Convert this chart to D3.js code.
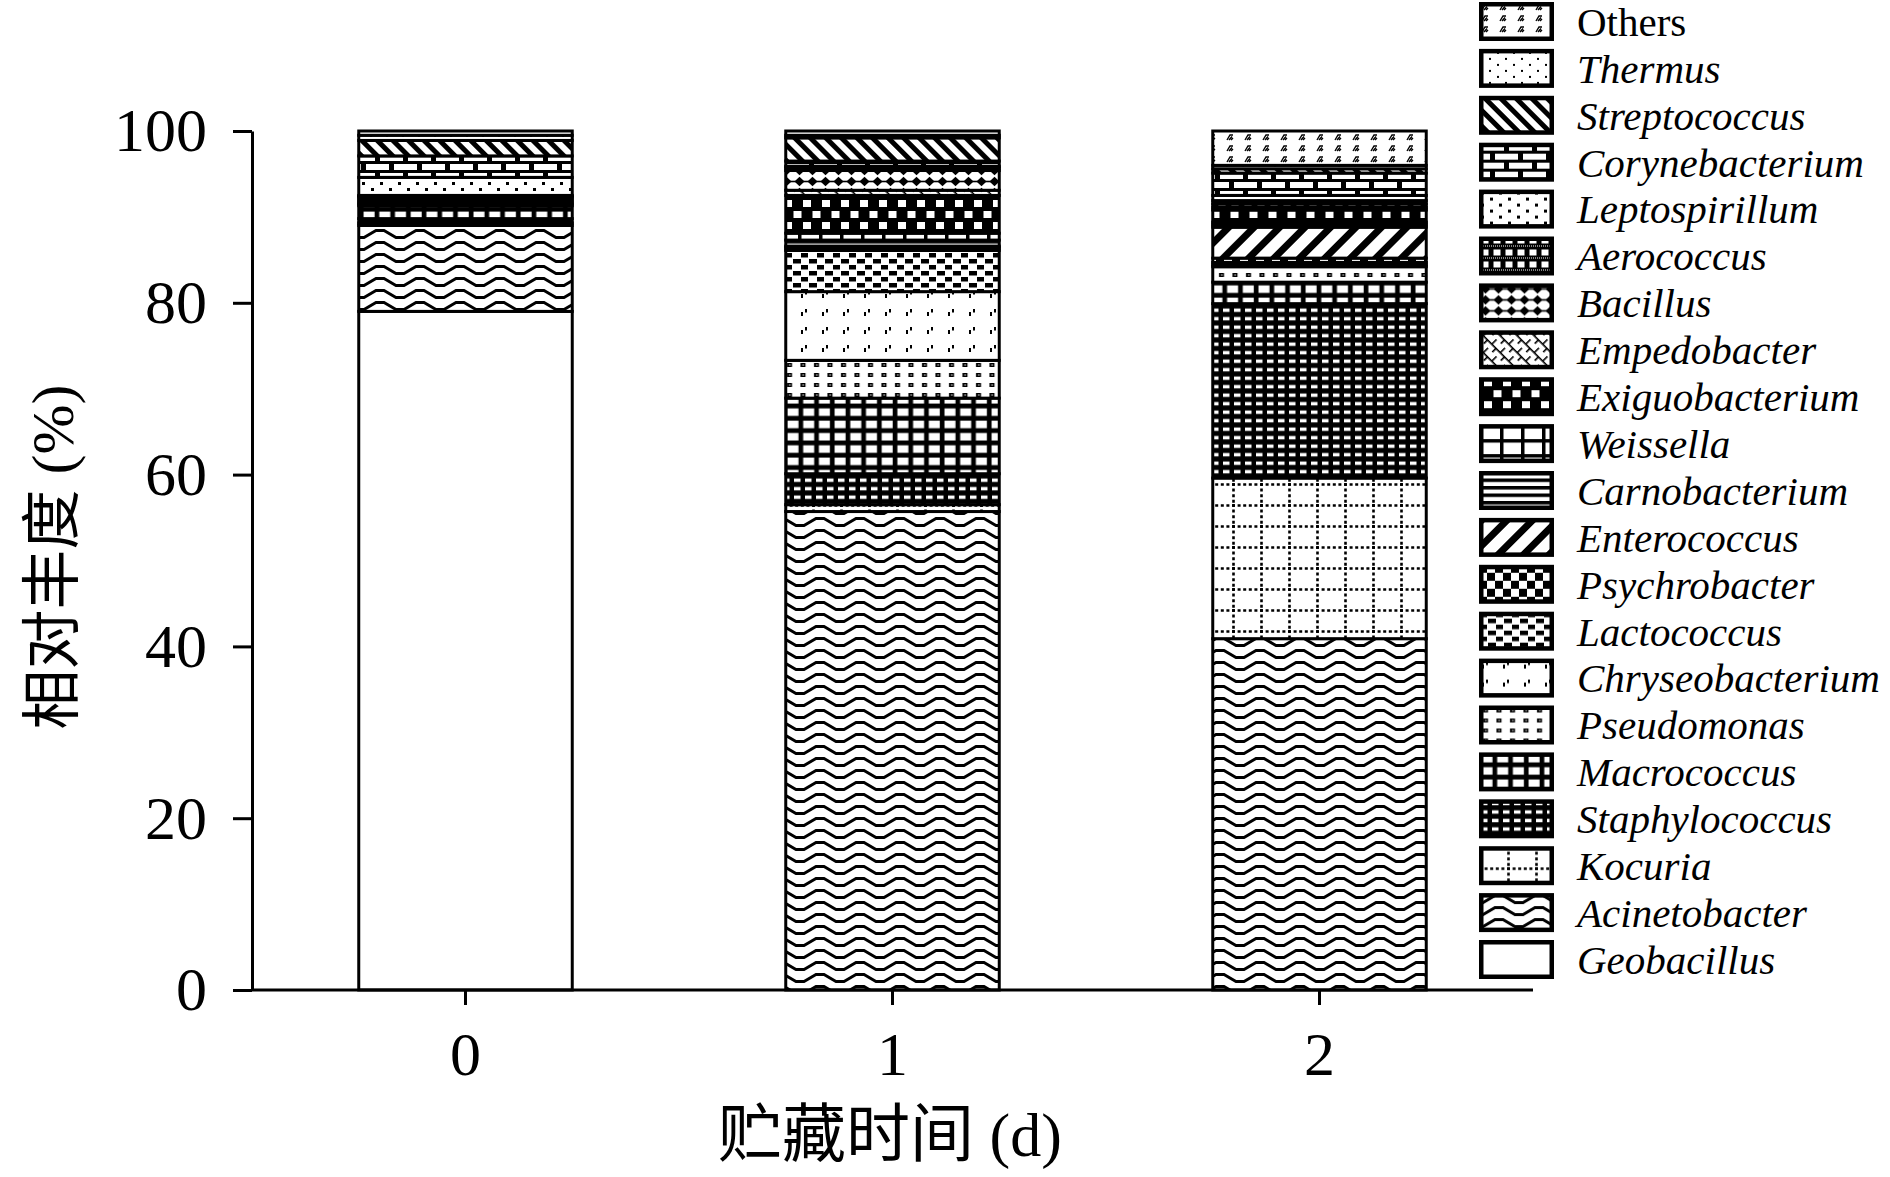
<!DOCTYPE html>
<html lang="zh">
<head>
	<meta charset="UTF-8">
	<title>贮藏时间 相对丰度</title>
	<script src="https://cdnjs.cloudflare.com/ajax/libs/d3/7.8.5/d3.min.js"></script>
	<style>
		*{ padding:0; margin:0; }
		body{ background:#fff; }
		text{ fill:#000; font-family:"Liberation Serif","DejaVu Serif",serif; }
		.cjk{ font-family:"Noto Sans CJK SC",sans-serif; }
		.axis path,.axis line{ stroke:#000; stroke-width:3; }
	</style>
</head>
<body>
	<div id="container"></div>
<script>
	// stack order, bottom -> top
	var genera=['Geobacillus','Acinetobacter','Kocuria','Staphylococcus','Macrococcus',
		'Pseudomonas','Chryseobacterium','Lactococcus','Psychrobacter','Enterococcus',
		'Carnobacterium','Weissella','Exiguobacterium','Empedobacter','Bacillus',
		'Aerococcus','Leptospirillum','Corynebacterium','Streptococcus','Thermus','Others']
	var days=['0','1','2']
	var day0=[79.0,10.0,0.3,0.5,1.5,0.2,0.2,0.3,0.3,0.1,0.1,0,0,0,0,0,2.1,2.5,1.8,0.6,0.5]
	var day1=[0,55.7,0.8,3.6,8.8,4.4,8.0,4.8,0.3,0.2,0.7,0.8,4.4,0.6,2.3,0.3,0.2,0.6,2.7,0.3,0.5]
	var day2=[0,40.9,18.7,20.3,2.5,1.8,0.2,0.3,0.5,3.6,0.3,0.3,1.4,0.3,0.4,0.4,0.6,2.6,0.5,0.4,4.0]
	var yTicks=[0,20,40,60,80,100]

	var width=1890,height=1177

	var table=days.map(function(d,i){
		var row={day:d}
		var vals=[day0,day1,day2][i]
		genera.forEach(function(g,j){ row[g]=vals[j] })
		return row
	})

	var svg=d3.select('#container').append('svg')
		.attr('width',width).attr('height',height)

	var defs=svg.append('defs')

	function pat(name,w,h,draw,tf){
		var p=defs.append('pattern').attr('id','p-'+name)
			.attr('patternUnits','userSpaceOnUse')
			.attr('width',w).attr('height',h)
		if(tf) p.attr('patternTransform',tf)
		p.append('rect').attr('width',w).attr('height',h).attr('fill','#fff')
		draw(p)
	}
	function r(p,x,y,w,h,c){ p.append('rect').attr('x',x).attr('y',y).attr('width',w).attr('height',h).attr('fill',c||'#000') }
	function ln(p,d,sw,dash,c){
		var e=p.append('path').attr('d',d).attr('fill','none').attr('stroke',c||'#000').attr('stroke-width',sw)
		if(dash) e.attr('stroke-dasharray',dash)
	}

	pat('Geobacillus',10,10,function(p){})
	pat('Acinetobacter',40,12,function(p){ ln(p,'M0,9.5 L4,9.5 L16,2.5 L24,2.5 L36,9.5 L40,9.5',2.9) })
	pat('Kocuria',28,21,function(p){ ln(p,'M0,1.5 H28',2.6,'3,2.6'); ln(p,'M1.5,0 V21',2.6,'3,2.6') })
	pat('Staphylococcus',11,8.5,function(p){ r(p,0,0,11,8.5); r(p,2,2.5,6.5,3.4,'#fff') })
	pat('Macrococcus',15.7,12.3,function(p){ r(p,0,0,15.7,12.3); r(p,2.5,2.5,11,7.5,'#fff') })
	pat('Pseudomonas',13.5,10,function(p){ r(p,4,3,5,4); r(p,6,4.5,1.5,1,'#fff') })
	pat('Chryseobacterium',21,18,function(p){ r(p,3,6,2,4); r(p,7,3,2,3.5) })
	pat('Lactococcus',16,12,function(p){ r(p,1,1,7,4.5); r(p,9,7,7,4.5); r(p,0,7,1,4.5) })
	pat('Psychrobacter',16,16,function(p){ r(p,0,0,8,8); r(p,8,8,8,8) })
	pat('Enterococcus',18,18,function(p){ r(p,0,0,7,18) },'rotate(45)')
	pat('Carnobacterium',8,7.5,function(p){ r(p,0,0,8,3.5) })
	pat('Weissella',21,15,function(p){ r(p,0,0,21,3.5); r(p,0,0,3.5,15) })
	pat('Exiguobacterium',19,22,function(p){ r(p,0,0,19,22); r(p,5,2,8,7,'#fff'); r(p,-4.5,13,8,7,'#fff'); r(p,14.5,13,8,7,'#fff') })
	pat('Empedobacter',12,12,function(p){ r(p,0,0,12,1.6); r(p,0,0,1.6,6); r(p,6,6,1.6,6) },'rotate(45)')
	pat('Bacillus',13,11,function(p){
		p.append('polygon').attr('points','6.5,0.8 11.5,5.5 6.5,10.2 1.5,5.5').attr('fill','#000')
		ln(p,'M0,5.5 H13',1.6)
	})
	pat('Aerococcus',12,12,function(p){ r(p,0,0,12,12); r(p,2.5,1,7,6,'#fff'); ln(p,'M0,9.5 H12',1.2,'1,1','#fff') })
	pat('Leptospirillum',18,12,function(p){ r(p,2,2,3,3); r(p,11,8,3,3) })
	pat('Corynebacterium',28,18,function(p){ r(p,0,0,28,18); r(p,2,2,23,6,'#fff'); r(p,-12,11,23,6,'#fff'); r(p,16,11,23,6,'#fff') })
	pat('Streptococcus',11,11,function(p){ r(p,0,0,5,11) },'rotate(-45)')
	pat('Thermus',16,12,function(p){ r(p,2,3,2,2); r(p,10,9,2,2) })
	pat('Others',18,11,function(p){ ln(p,'M3,8 L6,3 L9,3 M5,8 L8,4.5 M7,8 L9,6',1.4) })

	var x=d3.scaleBand().domain(days).range([252,1533]).paddingInner(0.5).paddingOuter(0.25)
	var y=d3.scaleLinear().domain([0,100]).range([990,131])

	var series=d3.stack().keys(genera)(table)

	var layer=svg.append('g').selectAll('g').data(series).join('g')
		.attr('fill',function(d){ return 'url(#p-'+d.key+')' })

	layer.selectAll('rect')
		.data(function(d){ return d.filter(function(v){ return v[1]-v[0]>0 }) })
		.join('rect')
		.attr('x',function(d){ return x(d.data.day) })
		.attr('width',x.bandwidth())
		.attr('y',function(d){ return y(d[1]) })
		.attr('height',function(d){ return y(d[0])-y(d[1]) })
		.attr('stroke','#000').attr('stroke-width',3)

	// axes
	var yAxis=svg.append('g').attr('class','axis')
		.attr('transform','translate(252,0)')
		.call(d3.axisLeft(y).tickValues(yTicks).tickSize(19).tickSizeOuter(0).tickPadding(26))
	yAxis.selectAll('text').attr('font-size',62).attr('font-family','Liberation Serif')

	var xAxis=svg.append('g').attr('class','axis')
		.attr('transform','translate(0,990)')
		.call(d3.axisBottom(x).tickSize(15).tickSizeOuter(0).tickPadding(26))
	xAxis.selectAll('text').attr('font-size',62).attr('font-family','Liberation Serif')
	xAxis.select('.domain').attr('d','M252,0H1533')

	// titles
	var xt=svg.append('text').attr('x',890).attr('y',1156).attr('text-anchor','middle').attr('font-size',62)
	xt.append('tspan').attr('class','cjk').attr('font-size',64).text('贮藏时间')
	xt.append('tspan').text(' (d)')

	var yt=svg.append('text').attr('transform','translate(73,557) rotate(-90)').attr('text-anchor','middle').attr('font-size',60)
	yt.append('tspan').attr('class','cjk').attr('font-size',60).text('相对丰度')
	yt.append('tspan').text(' (%)')

	// legend, top row = last stacked genus
	var legend=svg.append('g').selectAll('g').data(genera.slice().reverse()).join('g')
		.attr('transform',function(d,i){ return 'translate(1479,'+(2+i*46.9)+')' })
	legend.append('rect')
		.attr('x',2.25).attr('y',2.25).attr('width',70.5).attr('height',34.5)
		.attr('fill',function(d){ return 'url(#p-'+d+')' })
		.attr('stroke','#000').attr('stroke-width',4.5)
	legend.append('text')
		.attr('x',98).attr('y',19.5).attr('dy','0.35em')
		.attr('font-size',41).attr('font-family','Liberation Serif')
		.attr('font-style',function(d){ return d==='Others'?'normal':'italic' })
		.text(function(d){ return d })
</script>
</body>
</html>
